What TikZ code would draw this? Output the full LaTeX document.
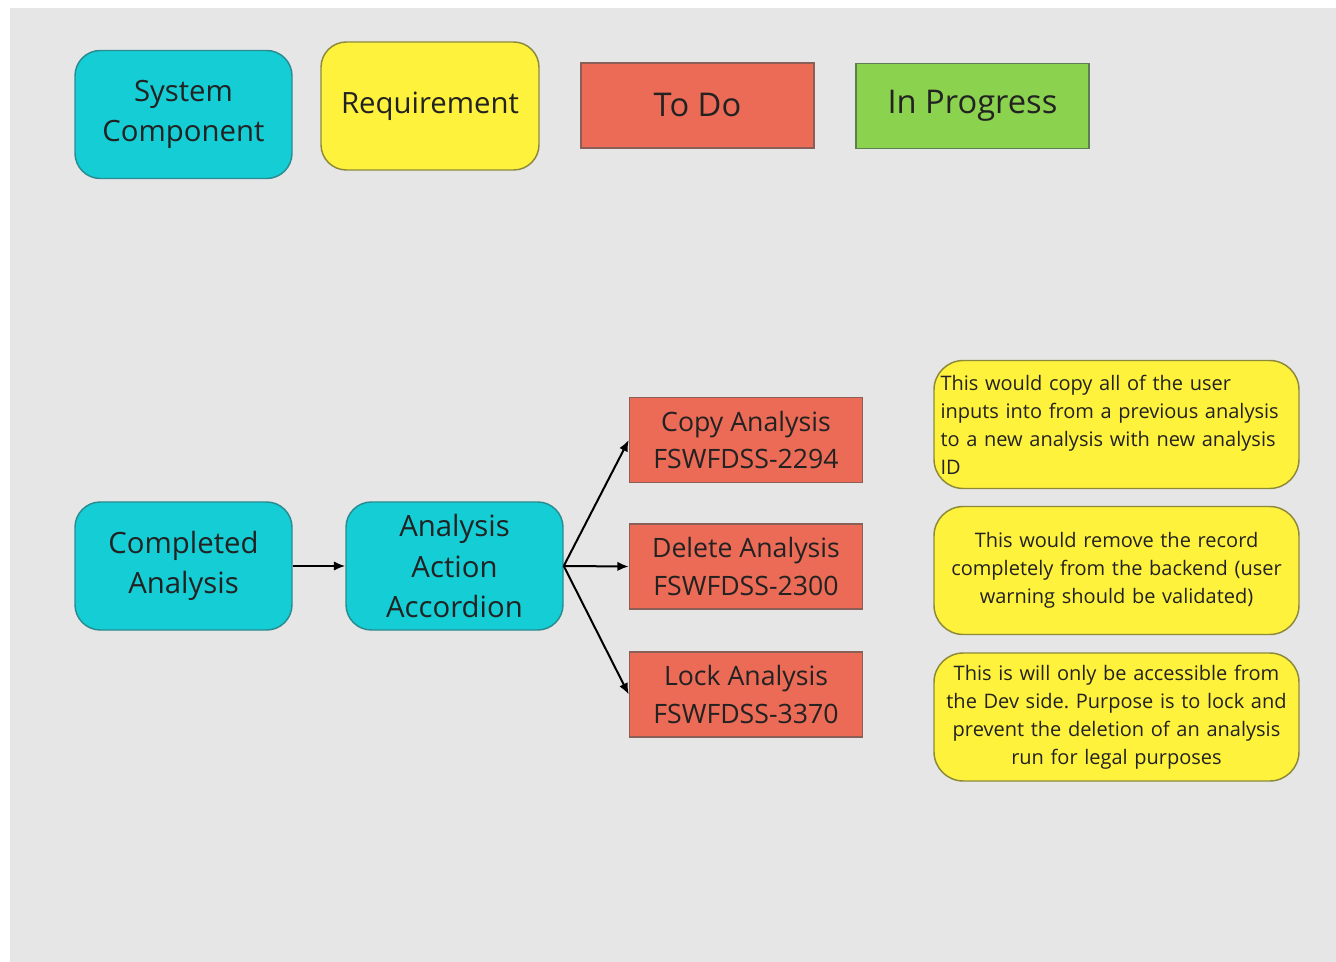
\documentclass[tikz,border=0pt]{standalone}
\usepackage{fontspec}
\setmainfont{Open Sans}
\frenchspacing
\usetikzlibrary{arrows.meta}
\definecolor{bg}{HTML}{E6E6E6}
\definecolor{cyanbox}{HTML}{14CDD5}
\definecolor{cyanline}{HTML}{2A8C90}
\definecolor{yelbox}{HTML}{FFF23C}
\definecolor{yelline}{HTML}{8C8A3A}
\definecolor{redbox}{HTML}{EB6B56}
\definecolor{redline}{HTML}{8A5F58}
\definecolor{grnbox}{HTML}{8BD24F}
\definecolor{grnline}{HTML}{5E7E52}
\definecolor{txt}{HTML}{222222}
\tikzset{
  base/.style={inner sep=0pt, align=center, text=txt, line width=1.1pt},
  comp/.style={base, fill=cyanbox, draw=cyanline, rounded corners=19pt,
    minimum width=162.75pt, minimum height=96pt,
    font=\fontsize{22}{30.5}\selectfont},
  reqbox/.style={base, fill=yelbox, draw=yelline, rounded corners=19pt,
    minimum width=163.5pt, minimum height=96pt,
    font=\fontsize{22}{30.5}\selectfont},
  todobox/.style={base, fill=redbox, draw=redline,
    minimum width=174.75pt, minimum height=64pt},
  progbox/.style={base, fill=grnbox, draw=grnline,
    minimum width=174.75pt, minimum height=64pt},
  task/.style={todobox, font=\fontsize{20}{28.3}\selectfont},
  note/.style={base, fill=yelbox, draw=yelline, rounded corners=22pt,
    minimum width=273.75pt, minimum height=96pt, text width=264pt,
    font=\fontsize{15}{21}\selectfont},
  conn/.style={line width=1.5pt, black, -{Latex[length=8.5pt,width=7pt]}}
}
\begin{document}
\begin{tikzpicture}[x=0.75pt,y=-0.75pt]
\useasboundingbox (0,0) rectangle (1336,962);
\fill[white] (0,0) rectangle (1336,962);
\fill[bg] (10,8) rectangle (1336,962);
% legend
\node[comp] (sys) at (183.5,114.5) {System\\Component};
\node[reqbox] (req) at (430,106) {Requirement};
\node[todobox, font=\fontsize{24.5}{30}\selectfont] (todo) at (697.5,105.5) {To Do};
\node[progbox, font=\fontsize{24.5}{30}\selectfont] (prog) at (972.5,106) {In Progress};
% flow
\node[comp] (done) at (183.5,566) {Completed\\Analysis};
\node[comp] (acc) at (454.5,566) {Analysis\\Action\\Accordion};
\node[task] (copy) at (746,440) {Copy Analysis\\FSWFDSS-2294};
\node[task] (del) at (746,566.5) {Delete Analysis\\FSWFDSS-2300};
\node[task] (lock) at (746,694.5) {Lock Analysis\\FSWFDSS-3370};
% notes
\node[note, align=left] (n1) at (1116.5,424.5) {This would copy all of the user\\inputs into from a previous analysis\\to a new analysis with new analysis\\ID};
\node[note] (n2) at (1116.5,570.5) {This would remove the record\\completely from the backend (user\\warning should be validated)};
\node[note] (n3) at (1116.5,717) {This is will only be accessible from\\the Dev side. Purpose is to lock and\\prevent the deletion of an analysis\\run for legal purposes};
% connectors
\draw[conn] (done.east) -- (acc.west);
\draw[conn] (acc.east) -- (copy.west);
\draw[conn] (acc.east) -- (del.west);
\draw[conn] (acc.east) -- (lock.west);
\end{tikzpicture}
\end{document}
